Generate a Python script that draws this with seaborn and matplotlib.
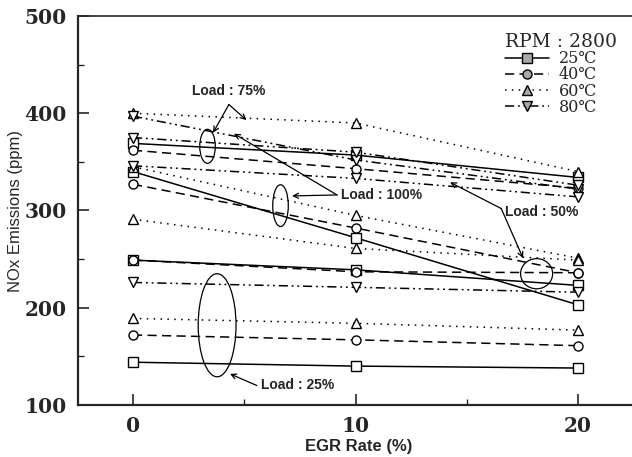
import matplotlib
matplotlib.use("Agg")
import matplotlib.pyplot as plt
from matplotlib.patches import Ellipse
from matplotlib.lines import Line2D
import seaborn as sns
import pandas as pd

# ---- data ----
egr_rate = [0, 10, 20]
loads = ["25%", "50%", "75%", "100%"]
temps = ["25℃", "40℃", "60℃", "80℃"]

nox_25C = {"25%": [144, 140, 138], "50%": [249, 239, 223], "75%": [369, 357, 334], "100%": [340, 272, 203]}
nox_40C = {"25%": [172, 167, 161], "50%": [249, 237, 236], "75%": [362, 343, 323], "100%": [327, 282, 236]}
nox_60C = {"25%": [189, 184, 177], "50%": [291, 261, 249], "75%": [400, 390, 340], "100%": [345, 295, 251]}
nox_80C = {"25%": [226, 221, 216], "50%": [346, 333, 314], "75%": [375, 360, 326], "100%": [397, 352, 322]}

x_ticks = [0, 10, 20]
y_ticks = [100, 200, 300, 400, 500]

series = dict(zip(temps, [nox_25C, nox_40C, nox_60C, nox_80C]))
rows = []
for t in temps:
    for ld in loads:
        for x, v in zip(egr_rate, series[t][ld]):
            rows.append({"egr": x, "nox": v, "temp": t, "load": ld})
df = pd.DataFrame(rows)

sns.set_style("ticks")
plt.rcParams["font.family"] = ["DejaVu Sans"]

fig = plt.figure(figsize=(6.32, 4.57), dpi=100)
ax = fig.add_axes([78 / 632, 52 / 457, (640 - 78) / 632, (405 - 16) / 457])

marker_map = dict(zip(temps, ["s", "o", "^", "v"]))
dash_map = dict(zip(temps, ["", (6, 3.5), (1, 3.5), (6, 2.5, 1.2, 2.5, 1.2, 2.5)]))

sns.lineplot(data=df, x="egr", y="nox", style="temp", units="load", estimator=None,
             style_order=temps, markers=marker_map, dashes=dash_map, color="black",
             linewidth=1.1, markersize=6.5, markerfacecolor="white",
             markeredgecolor="black", markeredgewidth=1.0, legend=False, ax=ax)

ax.set_xlim((78 - 133) / 22.25, (640 - 133) / 22.25)
ax.set_ylim(100, 500)
ax.set_xticks(x_ticks)
ax.set_yticks(y_ticks)
ax.set_xticks([5, 15], minor=True)
ax.set_yticks([150, 250, 350, 450], minor=True)
ax.tick_params(which="major", direction="in", length=8, width=1.2, pad=8)
ax.tick_params(which="minor", direction="in", length=4, width=1.0)
for lab in ax.get_xticklabels() + ax.get_yticklabels():
    lab.set_fontfamily("DejaVu Serif")
    lab.set_fontweight("bold")
    lab.set_fontsize(14.5)

ax.spines["right"].set_visible(False)
ax.spines["left"].set_linewidth(1.6)
ax.spines["bottom"].set_linewidth(1.6)
ax.spines["top"].set_linewidth(1.2)

ax.set_xlabel("EGR Rate (%)", fontfamily="Liberation Sans", fontweight="bold", fontsize=12, labelpad=2)
ax.set_ylabel("NOx Emissions (ppm)", fontfamily="Liberation Sans", fontsize=12, labelpad=1)

# ---- annotations ----
ell_kw = dict(fill=False, lw=0.9, ec="black")
ax.add_patch(Ellipse((3.35, 366), 0.7, 35, **ell_kw))
ax.add_patch(Ellipse((6.63, 305), 0.7, 43, **ell_kw))
ax.add_patch(Ellipse((18.14, 235), 1.44, 31, **ell_kw))
ax.add_patch(Ellipse((3.78, 182), 1.7, 106, **ell_kw))

txt_kw = dict(fontfamily="Liberation Sans", fontweight="bold", fontsize=10)
arr = dict(arrowstyle="->", lw=0.9, color="black", shrinkA=0, shrinkB=0, mutation_scale=9)

ax.text(4.31, 423, "Load : 75%", ha="center", va="center", **txt_kw)
ax.annotate("", xy=(3.6, 380), xytext=(4.31, 409), arrowprops=arr)
ax.annotate("", xy=(5.1, 393), xytext=(4.31, 409), arrowprops=arr)

ax.text(9.35, 316, "Load : 100%", ha="left", va="center", **txt_kw)
ax.annotate("", xy=(7.15, 315), xytext=(9.17, 316), arrowprops=arr)
ax.annotate("", xy=(4.54, 379), xytext=(9.17, 316), arrowprops=arr)

ax.text(16.72, 298, "Load : 50%", ha="left", va="center", **txt_kw)
ax.annotate("", xy=(14.25, 329), xytext=(16.55, 302), arrowprops=arr)
ax.annotate("", xy=(17.53, 251), xytext=(16.55, 302), arrowprops=arr)

ax.text(5.75, 120.6, "Load : 25%", ha="left", va="center", **txt_kw)
ax.annotate("", xy=(4.36, 132), xytext=(5.57, 120), arrowprops=arr)

# ---- legend ----
handles = []
for t in temps:
    h = Line2D([], [], color="black", lw=1.1, marker=marker_map[t], linestyle="-",
               markersize=6.5, markerfacecolor="#a8a8a8", markeredgecolor="black")
    if dash_map[t]:
        h.set_dashes(dash_map[t])
    handles.append(h)
leg = ax.legend(handles, temps, title="RPM : 2800", loc="upper left",
                bbox_to_anchor=(497 / 632, 1 - 25 / 457), bbox_transform=fig.transFigure,
                frameon=False, borderpad=0, handlelength=2.75, handletextpad=0.6,
                labelspacing=-0.05, alignment="left",
                prop={"family": ["DejaVu Serif", "DejaVu Sans"], "size": 11.5},
                title_fontproperties={"family": ["DejaVu Serif", "DejaVu Sans"], "size": 13.5})

fig.savefig("out.png", dpi=100)
